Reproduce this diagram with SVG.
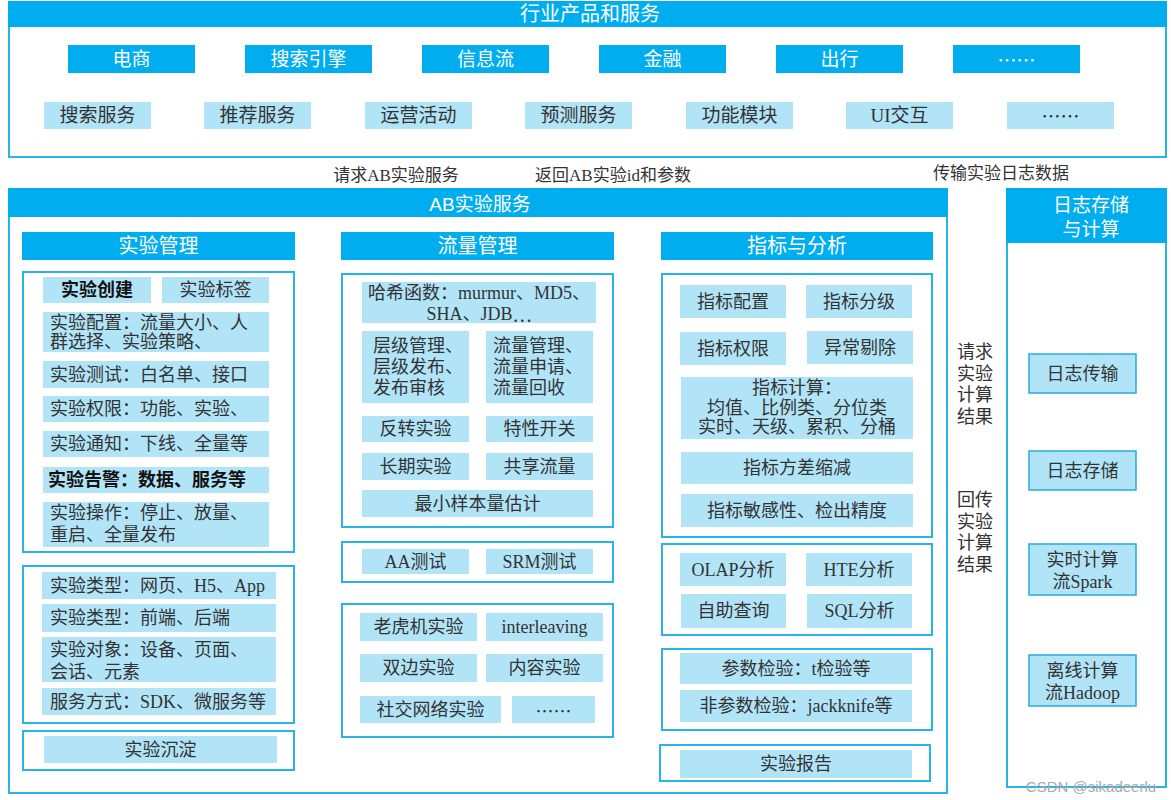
<svg xmlns="http://www.w3.org/2000/svg" width="1172" height="800" viewBox="0 0 1172 800">
<style>
.hd{fill:#00aeef}
.lt{fill:#b2e4f8}
.fr{fill:none;stroke:#29b4e8;stroke-width:2}
.bx{fill:#b2e4f8;stroke:#29a9e0;stroke-width:1.5}
.w{fill:#fff;font-family:"Liberation Sans","Noto Sans CJK SC",sans-serif;text-anchor:middle;dominant-baseline:central}
.t{fill:#333;font-family:"Liberation Serif","Noto Sans CJK SC",serif;font-size:18px;text-anchor:middle;dominant-baseline:central}
.l{text-anchor:start}
.b{font-weight:bold;fill:#111}
.s19{font-size:19px}
.s20{font-size:20px}
.s17{font-size:17px}
.el{font-family:"Noto Sans CJK SC",sans-serif}
</style>
<rect width="1172" height="800" fill="#fff"/>

<g id="industry">
<rect class="fr" x="9" y="2" width="1157" height="155"/>
<rect class="hd" x="8" y="1" width="1159" height="26"/>
<text class="w s20" x="590" y="14">行业产品和服务</text>
<g id="top-row">
<rect class="hd" x="68" y="45" width="127" height="28"/><text class="w s19" x="131.5" y="59">电商</text>
<rect class="hd" x="245" y="45" width="127" height="28"/><text class="w s19" x="308.5" y="59">搜索引擎</text>
<rect class="hd" x="422" y="45" width="127" height="28"/><text class="w s19" x="485.5" y="59">信息流</text>
<rect class="hd" x="599" y="45" width="127" height="28"/><text class="w s19" x="662.5" y="59">金融</text>
<rect class="hd" x="776" y="45" width="127" height="28"/><text class="w s19" x="839.5" y="59">出行</text>
<rect class="hd" x="953" y="45" width="127" height="28"/><text class="w s19 el" x="1016.5" y="59">……</text>
</g>
<g id="second-row">
<rect class="lt" x="44" y="102" width="107" height="27"/><text class="t s19" x="97.5" y="115.5">搜索服务</text>
<rect class="lt" x="204" y="102" width="107" height="27"/><text class="t s19" x="257.5" y="115.5">推荐服务</text>
<rect class="lt" x="365" y="102" width="107" height="27"/><text class="t s19" x="418.5" y="115.5">运营活动</text>
<rect class="lt" x="525" y="102" width="107" height="27"/><text class="t s19" x="578.5" y="115.5">预测服务</text>
<rect class="lt" x="686" y="102" width="107" height="27"/><text class="t s19" x="739.5" y="115.5">功能模块</text>
<rect class="lt" x="846" y="102" width="107" height="27"/><text class="t s19" x="899.5" y="115.5">UI交互</text>
<rect class="lt" x="1007" y="102" width="107" height="27"/><text class="t s19 el" x="1060.5" y="115.5">……</text>
</g>
</g>

<g id="connectors">
<text class="t s17" x="396" y="175">请求AB实验服务</text>
<text class="t s17" x="613" y="175">返回AB实验id和参数</text>
<text class="t s17" x="1001" y="173">传输实验日志数据</text>
<text class="t" x="975"><tspan x="975" y="352">请求</tspan><tspan x="975" y="373.7">实验</tspan><tspan x="975" y="395.4">计算</tspan><tspan x="975" y="417">结果</tspan></text>
<text class="t" x="975"><tspan x="975" y="500">回传</tspan><tspan x="975" y="521.7">实验</tspan><tspan x="975" y="543.4">计算</tspan><tspan x="975" y="565">结果</tspan></text>
</g>

<g id="ab-service">
<rect class="fr" x="9" y="189" width="938" height="604"/>
<rect class="hd" x="8" y="188" width="940" height="29"/>
<text class="w s19" x="480" y="204">AB实验服务</text>
</g>

<g id="exp-mgmt">
<rect class="hd" x="22" y="232" width="273" height="28"/>
<text class="w s20" x="158.5" y="246">实验管理</text>
<rect class="fr" x="23" y="272" width="271" height="280"/>
<rect class="lt" x="43" y="277" width="108" height="26"/><text class="t b" x="97" y="290">实验创建</text>
<rect class="lt" x="162" y="277" width="107" height="26"/><text class="t" x="215.5" y="290">实验标签</text>
<rect class="lt" x="43" y="312" width="226" height="40"/><text class="t l"><tspan x="50" y="323">实验配置：流量大小、人</tspan><tspan x="50" y="342">群选择、实验策略、</tspan></text>
<rect class="lt" x="43" y="361" width="226" height="27"/><text class="t l" x="50" y="374.5">实验测试：白名单、接口</text>
<rect class="lt" x="43" y="396" width="226" height="26"/><text class="t l" x="50" y="409">实验权限：功能、实验、</text>
<rect class="lt" x="43" y="431" width="226" height="26"/><text class="t l" x="50" y="444">实验通知：下线、全量等</text>
<rect class="lt" x="43" y="467" width="226" height="26"/><text class="t l b" x="48" y="480">实验告警：数据、服务等</text>
<rect class="lt" x="43" y="502" width="226" height="45"/><text class="t l"><tspan x="50" y="513">实验操作：停止、放量、</tspan><tspan x="50" y="535">重启、全量发布</tspan></text>
<rect class="fr" x="23" y="566" width="271" height="157"/>
<rect class="lt" x="42" y="572" width="234" height="27"/><text class="t l" x="50" y="585.5">实验类型：网页、H5、App</text>
<rect class="lt" x="42" y="604" width="234" height="28"/><text class="t l" x="50" y="618">实验类型：前端、后端</text>
<rect class="lt" x="42" y="637" width="234" height="45"/><text class="t l"><tspan x="50" y="650">实验对象：设备、页面、</tspan><tspan x="50" y="672">会话、元素</tspan></text>
<rect class="lt" x="42" y="688" width="234" height="27"/><text class="t l" x="50" y="701.5">服务方式：SDK、微服务等</text>
<rect class="fr" x="23" y="731" width="271" height="39"/>
<rect class="lt" x="44" y="736" width="233" height="27"/><text class="t" x="160.5" y="749.5">实验沉淀</text>
</g>

<g id="traffic-mgmt">
<rect class="hd" x="341" y="232" width="273" height="28"/>
<text class="w s20" x="477.5" y="246">流量管理</text>
<rect class="fr" x="342" y="274" width="271" height="253"/>
<rect class="lt" x="362" y="282" width="234" height="41"/><text class="t"><tspan x="479" y="293">哈希函数：murmur、MD5、</tspan><tspan x="479" y="314">SHA、JDB<tspan class="el">…</tspan></tspan></text>
<rect class="lt" x="362" y="331" width="107" height="72"/><text class="t l"><tspan x="373" y="346">层级管理、</tspan><tspan x="373" y="367">层级发布、</tspan><tspan x="373" y="388">发布审核</tspan></text>
<rect class="lt" x="486" y="331" width="107" height="72"/><text class="t l"><tspan x="493" y="346">流量管理、</tspan><tspan x="493" y="367">流量申请、</tspan><tspan x="493" y="388">流量回收</tspan></text>
<rect class="lt" x="362" y="416" width="107" height="26"/><text class="t" x="415.5" y="429">反转实验</text>
<rect class="lt" x="486" y="416" width="107" height="26"/><text class="t" x="539.5" y="429">特性开关</text>
<rect class="lt" x="362" y="453" width="107" height="27"/><text class="t" x="415.5" y="466.5">长期实验</text>
<rect class="lt" x="486" y="453" width="107" height="27"/><text class="t" x="539.5" y="466.5">共享流量</text>
<rect class="lt" x="362" y="490" width="231" height="27"/><text class="t" x="477.5" y="503.5">最小样本量估计</text>
<rect class="fr" x="342" y="542" width="271" height="40"/>
<rect class="lt" x="362" y="549" width="107" height="25"/><text class="t" x="415.5" y="561.5">AA测试</text>
<rect class="lt" x="486" y="549" width="107" height="25"/><text class="t" x="539.5" y="561.5">SRM测试</text>
<rect class="fr" x="342" y="604" width="271" height="133"/>
<rect class="lt" x="360" y="613" width="117" height="28"/><text class="t" x="418.5" y="627">老虎机实验</text>
<rect class="lt" x="486" y="613" width="117" height="28"/><text class="t" x="544.5" y="627">interleaving</text>
<rect class="lt" x="360" y="654" width="117" height="28"/><text class="t" x="418.5" y="668">双边实验</text>
<rect class="lt" x="486" y="654" width="117" height="28"/><text class="t" x="544.5" y="668">内容实验</text>
<rect class="lt" x="360" y="696" width="141" height="27"/><text class="t" x="430.5" y="709.5">社交网络实验</text>
<rect class="lt" x="512" y="696" width="83" height="27"/><text class="t el" x="553.5" y="709.5">……</text>
</g>

<g id="metrics">
<rect class="hd" x="661" y="232" width="272" height="28"/>
<text class="w s20" x="797" y="246">指标与分析</text>
<rect class="fr" x="662" y="274" width="270" height="263"/>
<rect class="lt" x="680" y="285" width="106" height="33"/><text class="t" x="733" y="301.5">指标配置</text>
<rect class="lt" x="806" y="285" width="106" height="33"/><text class="t" x="859" y="301.5">指标分级</text>
<rect class="lt" x="680" y="332" width="106" height="33"/><text class="t" x="733" y="348.5">指标权限</text>
<rect class="lt" x="807" y="331" width="106" height="33"/><text class="t" x="860" y="347.5">异常剔除</text>
<rect class="lt" x="681" y="377" width="232" height="62"/><text class="t"><tspan x="797" y="388">指标计算：</tspan><tspan x="797" y="408">均值、比例类、分位类</tspan><tspan x="797" y="427">实时、天级、累积、分桶</tspan></text>
<rect class="lt" x="681" y="452" width="232" height="32"/><text class="t" x="797" y="468">指标方差缩减</text>
<rect class="lt" x="681" y="494" width="232" height="33"/><text class="t" x="797" y="510.5">指标敏感性、检出精度</text>
<rect class="fr" x="662" y="544" width="270" height="91"/>
<rect class="lt" x="680" y="553" width="106" height="33"/><text class="t" x="733" y="569.5">OLAP分析</text>
<rect class="lt" x="806" y="553" width="106" height="33"/><text class="t" x="859" y="569.5">HTE分析</text>
<rect class="lt" x="681" y="594" width="105" height="34"/><text class="t" x="733.5" y="611">自助查询</text>
<rect class="lt" x="807" y="594" width="105" height="34"/><text class="t" x="859.5" y="611">SQL分析</text>
<rect class="fr" x="662" y="649" width="270" height="81"/>
<rect class="lt" x="680" y="653" width="232" height="31"/><text class="t" x="796" y="668.5">参数检验：t检验等</text>
<rect class="lt" x="680" y="690" width="232" height="32"/><text class="t" x="796" y="706">非参数检验：jackknife等</text>
<rect class="fr" x="660" y="745" width="270" height="36"/>
<rect class="lt" x="680" y="750" width="232" height="28"/><text class="t" x="796" y="764">实验报告</text>
</g>

<g id="log-storage">
<rect class="fr" x="1007" y="189" width="159" height="598"/>
<rect class="hd" x="1006" y="188" width="161" height="55"/>
<text class="w s19"><tspan x="1091" y="205">日志存储</tspan><tspan x="1091" y="229">与计算</tspan></text>
<rect class="bx" x="1029" y="354" width="107" height="39"/><text class="t" x="1082.5" y="373.5">日志传输</text>
<rect class="bx" x="1029" y="451" width="107" height="39"/><text class="t" x="1082.5" y="470.5">日志存储</text>
<rect class="bx" x="1029" y="544" width="107" height="51"/><text class="t"><tspan x="1082.5" y="560">实时计算</tspan><tspan x="1082.5" y="582">流Spark</tspan></text>
<rect class="bx" x="1029" y="655" width="107" height="51"/><text class="t"><tspan x="1082.5" y="671">离线计算</tspan><tspan x="1082.5" y="693">流Hadoop</tspan></text>
</g>

<text x="1091" y="786" font-family="Liberation Sans, sans-serif" font-size="15" fill="#aaa" text-anchor="middle" dominant-baseline="central">CSDN @sikadeerlu</text>
</svg>
